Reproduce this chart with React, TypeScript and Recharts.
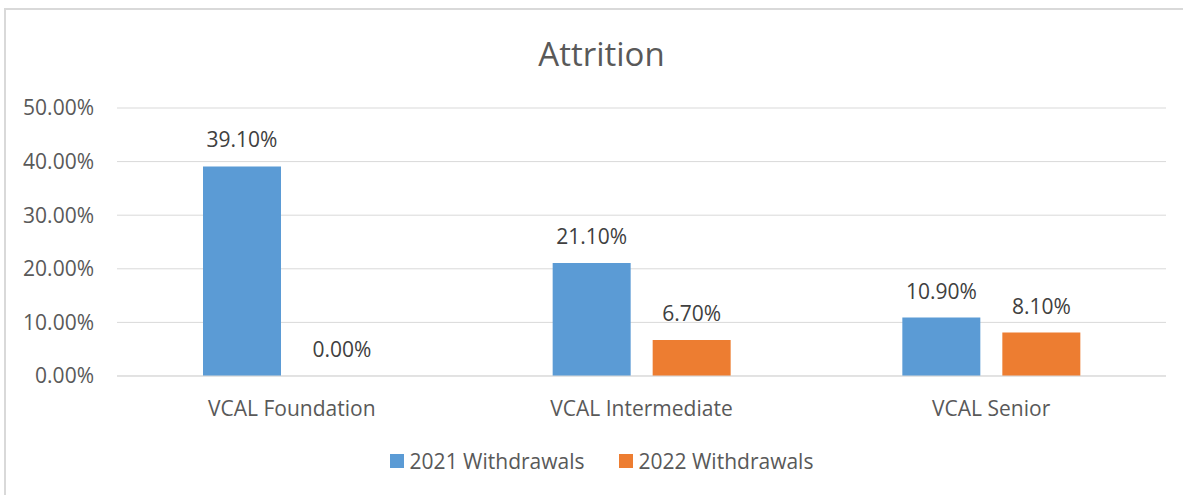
import { Bar, BarChart, CartesianGrid, LabelList, Legend, XAxis, YAxis } from "recharts"

// values (percent)
const categories = ["VCAL Foundation", "VCAL Intermediate", "VCAL Senior"]
const withdrawals2021 = [39.1, 21.1, 10.9]
const withdrawals2022 = [0, 6.7, 8.1]
const yTicks = [0, 10, 20, 30, 40, 50]

const data = categories.map((name, i) => ({
  name,
  w2021: withdrawals2021[i],
  w2022: withdrawals2022[i],
}))

const FONT = "'Open Sans', sans-serif"
const TEXT = "#595959"
const pct = (v: any) => `${Number(v).toFixed(2)}%`

function LegendContent({ payload }: any) {
  return (
    <div style={{ display: "flex", justifyContent: "center", alignItems: "center", fontFamily: FONT, fontSize: 21, color: TEXT }}>
      {(payload || []).map((p: any, i: number) => (
        <div key={p.value} style={{ display: "flex", alignItems: "center", marginLeft: i ? 34 : 0 }}>
          <span style={{ width: 14, height: 14, background: p.color, marginRight: 6, display: "inline-block" }} />
          <span>{p.value}</span>
        </div>
      ))}
    </div>
  )
}

export default function App() {
  return (
    <div
      style={{
        position: "fixed",
        left: 4,
        top: 8,
        width: 1185,
        height: 495,
        borderLeft: "2px solid #d9d9d9",
        borderTop: "2px solid #d9d9d9",
        overflow: "hidden",
        background: "#fff",
      }}
    >
      <div
        style={{
          position: "absolute",
          left: 0,
          width: 1191,
          top: 22,
          textAlign: "center",
          fontFamily: FONT,
          fontSize: 33,
          color: TEXT,
          lineHeight: "44px",
        }}
      >
        Attrition
      </div>
      <BarChart
        width={1191}
        height={485}
        data={data}
        margin={{ top: 98, right: 31, left: 11, bottom: 39 }}
        barSize={78}
        barGap={22}
      >
        <CartesianGrid vertical={false} stroke="#d9d9d9" />
        <XAxis
          dataKey="name"
          height={50}
          axisLine={{ stroke: "#d9d9d9" }}
          tickLine={false}
          tickMargin={19}
          tick={{ fill: TEXT, fontSize: 21, fontFamily: FONT }}
        />
        <YAxis
          width={100}
          domain={[0, 50]}
          ticks={yTicks}
          axisLine={false}
          tickLine={false}
          tickMargin={17}
          tickFormatter={pct}
          tick={{ fill: TEXT, fontSize: 21, fontFamily: FONT }}
        />
        <Legend
          height={30}
          verticalAlign="bottom"
          wrapperStyle={{ top: 437, left: 0, width: 1191 }}
          content={<LegendContent />}
        />
        <Bar dataKey="w2021" name="2021 Withdrawals" fill="#5B9BD5" isAnimationActive={false}>
          <LabelList dataKey="w2021" position="top" offset={19} formatter={pct} fill="#404040" fontSize={21} fontFamily={FONT} />
        </Bar>
        <Bar dataKey="w2022" name="2022 Withdrawals" fill="#ED7D31" minPointSize={0.01} isAnimationActive={false}>
          <LabelList dataKey="w2022" position="top" offset={19} formatter={pct} fill="#404040" fontSize={21} fontFamily={FONT} />
        </Bar>
      </BarChart>
    </div>
  )
}
